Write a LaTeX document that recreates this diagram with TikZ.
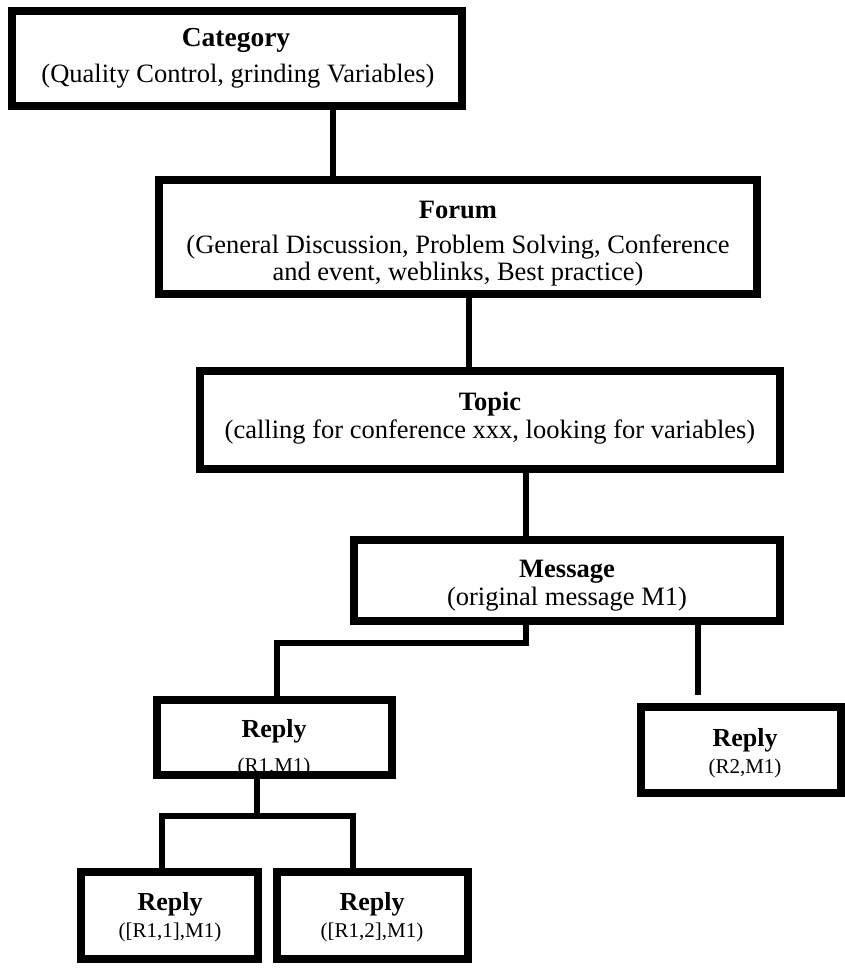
\documentclass[tikz,border=0pt]{standalone}
\usepackage{fontspec}
\setmainfont{Liberation Serif}
\begin{document}
\begin{tikzpicture}[x=1pt,y=-1pt,
  box/.style={draw=black,line width=8pt,rectangle,inner sep=0pt},
  wire/.style={draw=black,line width=6.5pt},
  ttl/.style={anchor=base,inner sep=0pt,font=\fontsize{26.5}{30}\selectfont\bfseries},
  sub/.style={anchor=base,inner sep=0pt,font=\fontsize{26.5}{30}\selectfont},
  ttls/.style={anchor=base,inner sep=0pt,font=\fontsize{26}{30}\selectfont\bfseries},
  subs/.style={anchor=base,inner sep=0pt,font=\fontsize{21}{25}\selectfont}]
% canvas
\path[fill=white,use as bounding box] (0,0) rectangle (845,970);

% labels
\node[ttl,font=\fontsize{27.5}{30}\selectfont\bfseries] (cat-t) at (236,46) {Category};
\node[sub] (cat-s) at (238,82) {(Quality Control, grinding Variables)};
\node[ttl] (for-t) at (458,218) {Forum};
\node[sub] (for-s1) at (458,253) {(General Discussion, Problem Solving, Conference};
\node[sub] (for-s2) at (458,280) {and event, weblinks, Best practice)};
\node[ttl] (top-t) at (490,410) {Topic};
\node[sub] (top-s) at (490,438) {(calling for conference xxx, looking for variables)};
\node[ttl] (msg-t) at (567,577) {Message};
\node[sub] (msg-s) at (567,605) {(original message M1)};
\node[ttls] (r1-t) at (274,737) {Reply};
\node[subs] (r1-s) at (274,772) {(R1,M1)};
\node[ttls] (r2-t) at (745,746) {Reply};
\node[subs] (r2-s) at (745,773) {(R2,M1)};
\node[ttls] (r11-t) at (170,910) {Reply};
\node[subs] (r11-s) at (170,937) {([R1,1],M1)};
\node[ttls] (r12-t) at (372,910) {Reply};
\node[subs] (r12-s) at (372,937) {([R1,2],M1)};

% boxes
\node[box,minimum width=450pt,minimum height=95pt] (cat) at (237,58.5) {};
\node[box,minimum width=598pt,minimum height=114pt] (forum) at (458,237) {};
\node[box,minimum width=580pt,minimum height=98pt] (topic) at (490,420) {};
\node[box,minimum width=426pt,minimum height=81pt] (msg) at (567,580.5) {};
\node[box,minimum width=235pt,minimum height=75pt] (rep1) at (274.5,737.5) {};
\node[box,minimum width=200pt,minimum height=86pt] (rep2) at (741,750) {};
\node[box,minimum width=177pt,minimum height=87pt] (rep11) at (169.5,915.5) {};
\node[box,minimum width=191pt,minimum height=87pt] (rep12) at (372.5,915.5) {};

% junction points of the connectors
\coordinate (j1) at (333,0);
\coordinate (j2) at (469,0);
\coordinate (j3) at (526,0);
\coordinate (m1) at (526,643);
\coordinate (m2) at (277,643);
\coordinate (j4) at (698,0);
\coordinate (r1) at (257,816);
\coordinate (r1a) at (162,816);
\coordinate (r1b) at (353,816);

% connectors
\draw[wire] (cat.south -| j1) -- (forum.north -| j1);
\draw[wire] (forum.south -| j2) -- (topic.north -| j2);
\draw[wire] (topic.south -| j3) -- (msg.north -| j3);
\draw[wire] (msg.south -| m1) -- (m1) -- (m2) -- (rep1.north -| m2);
\draw[wire,shorten >=8pt] (msg.south -| j4) -- (rep2.north -| j4);
\draw[wire] (rep1.south -| r1) -- (r1);
\draw[wire] (rep11.north -| r1a) -- (r1a) -- (r1b) -- (rep12.north -| r1b);
\end{tikzpicture}
\end{document}
